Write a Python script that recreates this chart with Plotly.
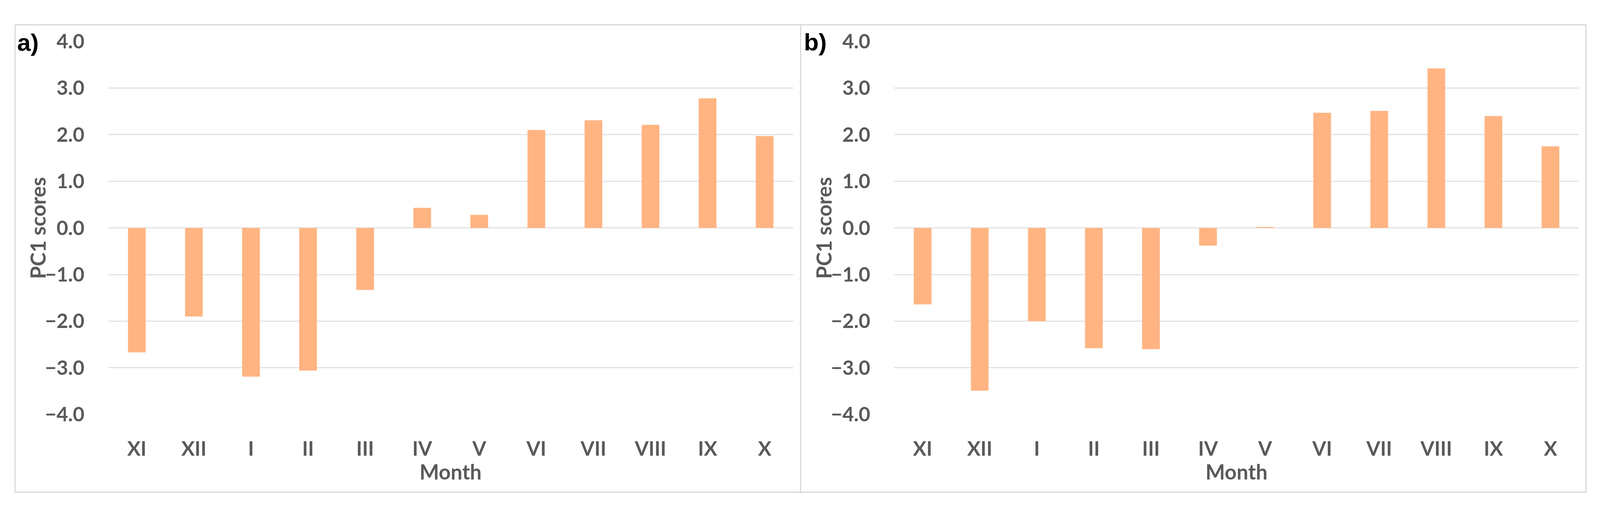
import plotly.graph_objects as go

W, H = 4233, 1324

months = ["XI", "XII", "I", "II", "III", "IV", "V", "VI", "VII", "VIII", "IX", "X"]
pc1_a = [-2.67, -1.90, -3.19, -3.06, -1.33, 0.43, 0.28, 2.10, 2.31, 2.21, 2.78, 1.97]
pc1_b = [-1.64, -3.49, -2.00, -2.58, -2.60, -0.38, 0.02, 2.47, 2.51, 3.42, 2.40, 1.75]
y_ticks = [-4, -3, -2, -1, 0, 1, 2, 3, 4]

BAR = "#FFB482"
GRID = "#E3E3E3"
TXT = "#595959"
FONT = "Lato"

def px_x(p):
    return p / W

def px_y(p):
    return 1 - p / H

fig = go.Figure()
fig.add_trace(go.Bar(x=months, y=pc1_a, marker=dict(color=BAR, line=dict(width=0)),
                     xaxis="x", yaxis="y", showlegend=False))
fig.add_trace(go.Bar(x=months, y=pc1_b, marker=dict(color=BAR, line=dict(width=0)),
                     xaxis="x2", yaxis="y2", showlegend=False))

ydom = [px_y(1079), px_y(77.7)]
xa_dom = [px_x(286.5), px_x(2098.5)]
xb_dom = [px_x(2365.5), px_x(4177.5)]

tickfont = dict(family=FONT, size=51, color=TXT, weight="bold")

xcommon = dict(type="category", showgrid=False, zeroline=False, showline=False,
               ticks="outside", ticklen=44, tickcolor="rgba(0,0,0,0)",
               tickfont=tickfont, fixedrange=True)
ycommon = dict(range=[-4, 4], tickvals=y_ticks, tickformat=".1f",
               showgrid=True, gridcolor=GRID, gridwidth=3,
               zeroline=True, zerolinecolor=GRID, zerolinewidth=3,
               showline=False, ticks="outside", ticklen=50,
               tickcolor="rgba(0,0,0,0)", tickfont=tickfont, fixedrange=True)

fig.update_layout(
    autosize=True,
    margin=dict(l=0, r=0, t=0, b=0),
    paper_bgcolor="white", plot_bgcolor="white",
    bargap=0.69,
    xaxis=dict(domain=xa_dom, anchor="y", **xcommon),
    yaxis=dict(domain=ydom, anchor="x", **ycommon),
    xaxis2=dict(domain=xb_dom, anchor="y2", **xcommon),
    yaxis2=dict(domain=ydom, anchor="x2", **ycommon),
)

border = dict(color="#D9D9D9", width=3)
shapes = [
    dict(type="rect", xref="paper", yref="paper", x0=px_x(40), x1=px_x(2118),
         y0=px_y(1288), y1=px_y(33), line=border, fillcolor="rgba(0,0,0,0)", layer="below"),
    dict(type="rect", xref="paper", yref="paper", x0=px_x(2118), x1=px_x(4196),
         y0=px_y(1288), y1=px_y(33), line=border, fillcolor="rgba(0,0,0,0)", layer="below"),
]
fig.update_layout(shapes=shapes)

title_font = dict(family=FONT, size=53, color=TXT, weight="bold")
label_font = dict(family="Liberation Sans", size=62, color="black", weight="bold")

annotations = [
    dict(text="a)", x=px_x(74), y=px_y(80), xref="paper", yref="paper",
         showarrow=False, font=label_font, xanchor="center", yanchor="middle"),
    dict(text="b)", x=px_x(2157), y=px_y(79), xref="paper", yref="paper",
         showarrow=False, font=label_font, xanchor="center", yanchor="middle"),
    dict(text="Month", x=(xa_dom[0] + xa_dom[1]) / 2, y=px_y(1232), xref="paper", yref="paper",
         showarrow=False, font=title_font, xanchor="center", yanchor="middle"),
    dict(text="Month", x=(xb_dom[0] + xb_dom[1]) / 2, y=px_y(1232), xref="paper", yref="paper",
         showarrow=False, font=title_font, xanchor="center", yanchor="middle"),
    dict(text="PC1 scores", x=px_x(100), y=(ydom[0] + ydom[1]) / 2, xref="paper", yref="paper",
         showarrow=False, font=title_font, textangle=-90, xanchor="center", yanchor="middle"),
    dict(text="PC1 scores", x=px_x(2179), y=(ydom[0] + ydom[1]) / 2, xref="paper", yref="paper",
         showarrow=False, font=title_font, textangle=-90, xanchor="center", yanchor="middle"),
]
fig.update_layout(annotations=annotations)

fig.write_html(
    "out.html",
    default_width="100vw",
    default_height="100vh",
    config={"responsive": True, "displayModeBar": False},
    post_script=(
        "document.documentElement.style.margin='0';"
        "document.body.style.margin='0';document.body.style.padding='0';"
        "document.documentElement.style.overflow='hidden';"
        "document.body.style.overflow='hidden';"
        "var gd=document.getElementById('{plot_id}');"
        "if(gd&&gd.parentElement){gd.parentElement.style.margin='0';}"
        "Plotly.Plots.resize(gd);"
    ),
)
